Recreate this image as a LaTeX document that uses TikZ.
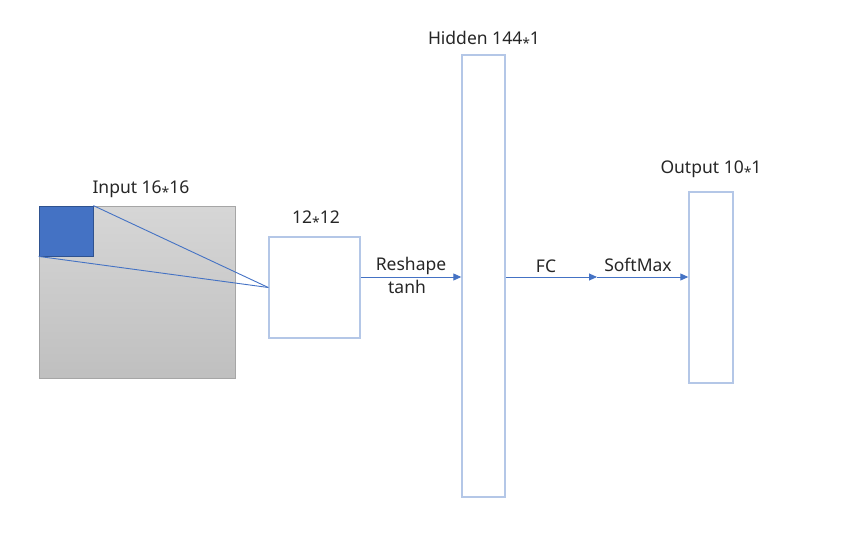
\documentclass[tikz,border=0pt]{standalone}
\usepackage{fontspec}
\setmainfont{Noto Sans}
\usetikzlibrary{shapes,arrows.meta,positioning}
\definecolor{lblue}{HTML}{B4C7E7}
\definecolor{mblue}{HTML}{4472C4}
\definecolor{dblue}{HTML}{2F528F}
\newcommand{\tms}{\raisebox{-0.45ex}{\fontsize{14}{14}\selectfont*}}

\begin{document}
\begin{tikzpicture}[x=1pt, y=-1pt]
		\tikzstyle{Layer} 	= [rectangle, draw=lblue, line width=1.4pt, fill=white, inner sep=0pt]
		\tikzstyle{Image}	= [rectangle, draw=black!35, line width=0.8pt, top color=black!16, bottom color=black!25, inner sep=0pt]
		\tikzstyle{Patch}	= [rectangle, draw=dblue, line width=0.8pt, fill=mblue, inner sep=0pt]
		\tikzstyle{Conn}	= [mblue, line width=0.9pt]
		\tikzstyle{Flow}	= [mblue, line width=0.9pt, -{Triangle[length=8pt, width=7pt]}]
		\tikzstyle{Label}	= [font=\fontsize{17.5}{20}\selectfont, text=black!85, inner sep=0pt]

		\useasboundingbox (0, 0) rectangle (847, 539);

		\node (inp) at (137, 292) [Image][minimum width=196, minimum height=172]{};
		\node (patch) at (66, 231) [Patch][minimum width=54, minimum height=50]{};
		\node (conv) at (314.5, 287.5) [Layer][minimum width=91, minimum height=101]{};
		\node (hid) at (483.5, 276) [Layer][minimum width=43, minimum height=442]{};
		\node (out) at (711, 287.5) [Layer][minimum width=44, minimum height=191]{};
		\coordinate (mid) at (597, 277);

		\node (linp) at (141, 189) [Label]{Input 16\tms16};
		\node (lconv) at (316, 219) [Label]{12\tms12};
		\node (lhid) at (484, 40) [Label]{Hidden 144\tms1};
		\node (lout) at (711, 169) [Label]{Output 10\tms1};
		\node (lresh) at (411, 266) [Label]{Reshape};
		\node (ltanh) at (407, 287) [Label]{tanh};
		\node (lfc) at (546, 266) [Label]{FC};
		\node (lsoft) at (638, 265) [Label]{SoftMax};

		\draw (patch.north east) -- (conv.west) [Conn];
		\draw (patch.south west) -- (conv.west) [Conn];

		\draw (conv.east |- mid) -- (hid.west |- mid) [Flow];
		\draw (hid.east |- mid) -- (mid) [Flow];
		\draw (mid) -- (out.west |- mid) [Flow];
	\end{tikzpicture}
\end{document}
